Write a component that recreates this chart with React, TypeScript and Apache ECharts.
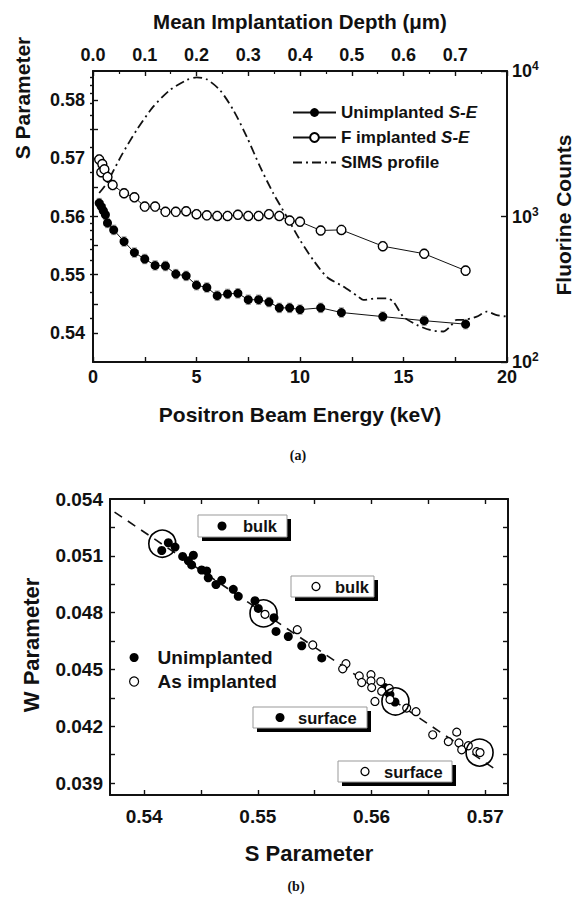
import React, { useEffect, useRef } from 'react';
import * as echarts from 'echarts';

const FF = '"Liberation Sans", Arial, Helvetica, sans-serif';
const INK = '#111';

// ---------- Panel (a): S parameter vs positron energy ----------
const energyUnimp = [0.3, 0.4, 0.5, 0.6, 0.7, 1.0, 1.5, 2, 2.5, 3, 3.5, 4, 4.5, 5, 5.5, 6, 6.5, 7, 7.5, 8, 8.5, 9, 9.5, 10, 11, 12, 14, 16, 18];
const sUnimp = [0.5623, 0.5617, 0.561, 0.5603, 0.5589, 0.5577, 0.5557, 0.5538, 0.5527, 0.5516, 0.5515, 0.5501, 0.5498, 0.5482, 0.5478, 0.5464, 0.5467, 0.5468, 0.5457, 0.5457, 0.5453, 0.5443, 0.5443, 0.544, 0.5443, 0.5435, 0.5428, 0.5421, 0.5415];
const energyImpl = [0.3, 0.4, 0.45, 0.55, 0.7, 0.95, 1.5, 2, 2.5, 3, 3.5, 4, 4.5, 5, 5.5, 6, 6.5, 7, 7.5, 8, 8.5, 9, 9.5, 10, 11, 12, 14, 16, 18];
const sImpl = [0.5698, 0.5676, 0.569, 0.5681, 0.5668, 0.5654, 0.564, 0.5633, 0.5617, 0.5617, 0.5608, 0.5608, 0.5609, 0.5604, 0.5602, 0.5601, 0.5601, 0.5603, 0.5601, 0.5601, 0.5604, 0.5601, 0.5593, 0.5591, 0.5576, 0.5577, 0.5549, 0.5536, 0.5507];
const sError = 0.0008;
const simsEnergy = [0.3, 0.66, 1.39, 2.11, 2.91, 3.72, 4.53, 5.01, 5.49, 6.13, 6.78, 7.43, 8.07, 8.71, 9.36, 10.0, 10.64, 11.29, 12.09, 12.82, 13.06, 13.7, 14.19, 14.51, 14.99, 15.64, 16.28, 16.92, 17.25, 17.57, 17.89, 18.54, 19.02, 19.5, 20];
const simsCounts = [1450, 1690, 2650, 3930, 5690, 7400, 8670, 9050, 8770, 7400, 5390, 3530, 2200, 1443, 997, 689, 502, 385, 330, 281, 267, 274, 274, 260, 205, 180, 166, 162, 175, 195, 195, 205, 222, 210, 205];

const sLabelsA = [0.54, 0.55, 0.56, 0.57, 0.58];
const sTicksA = [0.54, 0.545, 0.55, 0.555, 0.56, 0.565, 0.57, 0.575, 0.58];
const logMinorTicks = [2.30103, 2.47712, 2.60206, 2.69897, 2.77815, 2.84510, 2.90309, 2.95424, 3, 3.30103, 3.47712, 3.60206, 3.69897, 3.77815, 3.84510, 3.90309, 3.95424];

// ---------- Panel (b): W vs S ----------
const bUnimpS = [0.54155, 0.54213, 0.54272, 0.54339, 0.54389, 0.54418, 0.54433, 0.54506, 0.5455, 0.54564, 0.54632, 0.54682, 0.54784, 0.54828, 0.54975, 0.55004, 0.55142, 0.5516, 0.55268, 0.55386, 0.55562, 0.56118, 0.56162, 0.56206];
const bUnimpW = [0.05128, 0.05169, 0.05146, 0.05097, 0.05074, 0.05052, 0.05103, 0.05025, 0.0502, 0.04984, 0.04948, 0.04971, 0.04923, 0.04886, 0.04863, 0.04822, 0.04773, 0.04701, 0.04674, 0.04625, 0.04561, 0.04404, 0.04368, 0.04328];
const bImplS = [0.55063, 0.55347, 0.55483, 0.55775, 0.55746, 0.55892, 0.55913, 0.55995, 0.55995, 0.56001, 0.5603, 0.56081, 0.56089, 0.56156, 0.56162, 0.56309, 0.56391, 0.56538, 0.56675, 0.56749, 0.56769, 0.56793, 0.56851, 0.56925, 0.56954];
const bImplW = [0.04791, 0.0471, 0.04629, 0.0453, 0.04503, 0.04466, 0.04431, 0.04472, 0.04439, 0.04404, 0.04331, 0.04436, 0.04385, 0.044, 0.04341, 0.04296, 0.04277, 0.04155, 0.04119, 0.04169, 0.04112, 0.04076, 0.04097, 0.04066, 0.04061];
const ringS = [0.5416, 0.5505, 0.5621, 0.5695];
const ringW = [0.05164, 0.04796, 0.04331, 0.04061];
const fitS = [0.5374, 0.571];
const fitW = [0.05331, 0.03968];

const sLabelsB = [0.54, 0.55, 0.56, 0.57];
const sTicksB = [0.54, 0.545, 0.55, 0.555, 0.56, 0.565, 0.57];
const wLabels = [0.039, 0.042, 0.045, 0.048, 0.051, 0.054];
const wTicks = [0.039, 0.0405, 0.042, 0.0435, 0.045, 0.0465, 0.048, 0.0495, 0.051, 0.0525];

const zip = (a: number[], b: number[]) => a.map((v, i) => [v, b[i]]);

const axisLine = { show: true, onZero: false, lineStyle: { color: INK, width: 2 } };
const tickIn = (len = 5) => ({ show: true, inside: true, length: len, lineStyle: { color: INK, width: 1.4 } });
const lbl = (size: number, margin: number) => ({ fontSize: size, fontWeight: 'bold', fontFamily: FF, color: INK, margin });

function errBars(color: string) {
  return (params: any, api: any) => {
    const x = api.value(0);
    const y = api.value(1);
    const t = api.coord([x, y + sError]);
    const b = api.coord([x, y - sError]);
    const st = { stroke: color, lineWidth: 1.2 };
    return {
      type: 'group',
      children: [
        { type: 'line', shape: { x1: t[0], y1: t[1], x2: b[0], y2: b[1] }, style: st },
        { type: 'line', shape: { x1: t[0] - 2.5, y1: t[1], x2: t[0] + 2.5, y2: t[1] }, style: st },
        { type: 'line', shape: { x1: b[0] - 2.5, y1: b[1], x2: b[0] + 2.5, y2: b[1] }, style: st },
      ],
    };
  };
}

function txt(text: string, x: number, y: number, size: number, rot = 0, family = FF) {
  return {
    type: 'text',
    x,
    y,
    rotation: rot,
    style: {
      text,
      fontSize: size,
      fontWeight: 'bold',
      fontFamily: family,
      fill: INK,
      align: 'center',
      verticalAlign: 'middle',
      textAlign: 'center',
      textVerticalAlign: 'middle',
    },
  };
}

function box(x: number, y: number, w: number, h: number, filled: boolean, label: string, mx: number, tx: number) {
  const cy = y + h / 2;
  return {
    type: 'group',
    children: [
      { type: 'rect', shape: { x: x + 4, y: y + 4, width: w, height: h }, style: { fill: '#000' } },
      { type: 'rect', shape: { x, y, width: w, height: h }, style: { fill: '#fff', stroke: '#999', lineWidth: 1 } },
      filled
        ? { type: 'circle', shape: { cx: mx, cy, r: 4.5 }, style: { fill: '#000' } }
        : { type: 'circle', shape: { cx: mx, cy, r: 4 }, style: { fill: '#fff', stroke: '#000', lineWidth: 1.3 } },
      {
        type: 'text',
        x: tx,
        y: cy,
        style: { text: label, fontSize: 16.5, fontWeight: 'bold', fontFamily: FF, fill: INK, align: 'left', verticalAlign: 'middle', textAlign: 'left', textVerticalAlign: 'middle' },
      },
    ],
  };
}

export default function App() {
  const ref = useRef<HTMLDivElement>(null);
  useEffect(() => {
    if (!ref.current) return;
    const chart = echarts.init(ref.current, undefined, { renderer: 'svg' });
    const option: any = {
      animation: false,
      backgroundColor: '#fff',
      grid: [
        { left: 93, top: 71, width: 414, height: 291 },
        { left: 110, top: 499, width: 398, height: 296 },
      ],
      xAxis: [
        {
          gridIndex: 0, type: 'value', position: 'bottom', min: 0, max: 20, interval: 5,
          axisLine, axisTick: tickIn(5), minorTick: { show: true, splitNumber: 2, length: 5, lineStyle: { color: INK, width: 1.4 } },
          axisLabel: lbl(18, 6), splitLine: { show: false },
        },
        {
          gridIndex: 0, type: 'value', position: 'top', min: 0, max: 0.8, interval: 0.1,
          axisLine, axisTick: tickIn(5), minorTick: { show: true, splitNumber: 2, length: 3, lineStyle: { color: INK, width: 1.2 } },
          axisLabel: { ...lbl(18, 7), showMaxLabel: false, formatter: (v: number) => v.toFixed(1) }, splitLine: { show: false },
        },
        {
          gridIndex: 1, type: 'value', position: 'bottom', min: 0.537, max: 0.572,
          axisLine, axisTick: { ...tickIn(5), customValues: sTicksB },
          axisLabel: { ...lbl(19, 12), customValues: sLabelsB, formatter: (v: number) => v.toFixed(2) }, splitLine: { show: false },
        },
        {
          gridIndex: 1, type: 'value', position: 'top', min: 0.537, max: 0.572,
          axisLine, axisTick: { ...tickIn(5), customValues: sTicksB }, axisLabel: { show: false }, splitLine: { show: false },
        },
      ],
      yAxis: [
        {
          gridIndex: 0, type: 'value', position: 'left', min: 0.535, max: 0.585,
          axisLine, axisTick: { ...tickIn(5), customValues: sTicksA },
          axisLabel: { ...lbl(18, 8), customValues: sLabelsA, formatter: (v: number) => v.toFixed(2) }, splitLine: { show: false },
        },
        {
          gridIndex: 0, type: 'log', logBase: 10, position: 'right', min: 100, max: 10000,
          axisLine, axisTick: tickIn(6),
          axisLabel: {
            margin: 5,
            formatter: (v: number) => '{b|10}{s|' + Math.round(Math.log10(v)) + '}',
            rich: {
              b: { fontSize: 18, fontWeight: 'bold', fontFamily: FF, color: INK, lineHeight: 22 },
              s: { fontSize: 12, fontWeight: 'bold', fontFamily: FF, color: INK, verticalAlign: 'top', lineHeight: 12 },
            },
          },
          splitLine: { show: false },
        },
        {
          gridIndex: 0, type: 'value', position: 'right', min: 2, max: 4,
          axisLine: { show: false }, axisTick: { ...tickIn(3), customValues: logMinorTicks }, axisLabel: { show: false }, splitLine: { show: false },
        },
        {
          gridIndex: 1, type: 'value', position: 'left', min: 0.03837, max: 0.054,
          axisLine, axisTick: { ...tickIn(5), customValues: wTicks },
          axisLabel: { ...lbl(19, 7), customValues: wLabels, formatter: (v: number) => v.toFixed(3) }, splitLine: { show: false },
        },
        {
          gridIndex: 1, type: 'value', position: 'right', min: 0.03837, max: 0.054,
          axisLine, axisTick: { ...tickIn(5), customValues: wTicks }, axisLabel: { show: false }, splitLine: { show: false },
        },
      ],
      legend: [
        {
          data: ['Unimplanted S-E', 'F implanted S-E', { name: 'SIMS profile', itemStyle: { opacity: 0 } }],
          orient: 'vertical', left: 287, top: 99, itemWidth: 43, itemHeight: 11, itemGap: 8,
          selectedMode: false,
          formatter: (n: string) => n.replace('S-E', '{i|S-E}'),
          textStyle: {
            fontSize: 17, fontWeight: 'bold', fontFamily: FF, color: INK,
            rich: { i: { fontSize: 17, fontWeight: 'bold', fontStyle: 'italic', fontFamily: FF, color: INK } },
          },
        },
        {
          data: [
            { name: 'Unimplanted', itemStyle: { color: '#000' } },
            { name: 'As implanted', itemStyle: { color: '#fff', borderColor: '#000', borderWidth: 1.2 } },
          ],
          orient: 'vertical', left: 124, top: 643, itemWidth: 9, itemHeight: 9, itemGap: 5,
          selectedMode: false,
          textStyle: { fontSize: 19, fontWeight: 'bold', fontFamily: FF, color: INK, padding: [0, 0, 0, 14] },
        },
      ],
      series: [
        {
          name: 'errUnimp', type: 'custom', xAxisIndex: 0, yAxisIndex: 0, renderItem: errBars('#a0a0a0'),
          data: zip(energyUnimp, sUnimp), z: 1, silent: true,
        },
        {
          name: 'errImpl', type: 'custom', xAxisIndex: 0, yAxisIndex: 0, renderItem: errBars('#a0a0a0'),
          data: zip(energyImpl, sImpl), z: 1, silent: true,
        },
        {
          name: 'SIMS profile', type: 'line', xAxisIndex: 0, yAxisIndex: 1, data: zip(simsEnergy, simsCounts),
          symbol: 'none', smooth: 0.25, lineStyle: { color: INK, width: 1.8, type: [9, 4, 2, 4] }, itemStyle: { color: INK }, z: 2,
        },
        {
          name: 'Unimplanted S-E', type: 'line', xAxisIndex: 0, yAxisIndex: 0, data: zip(energyUnimp, sUnimp),
          symbol: 'circle', symbolSize: 9, itemStyle: { color: '#000' }, lineStyle: { color: INK, width: 1 }, z: 3,
        },
        {
          name: 'F implanted S-E', type: 'line', xAxisIndex: 0, yAxisIndex: 0, data: zip(energyImpl, sImpl),
          symbol: 'circle', symbolSize: 9, itemStyle: { color: '#fff', borderColor: '#000', borderWidth: 1.4 },
          lineStyle: { color: INK, width: 1 }, z: 3,
        },
        {
          name: 'fit', type: 'line', xAxisIndex: 2, yAxisIndex: 3, data: zip(fitS, fitW), symbol: 'none',
          lineStyle: { color: INK, width: 1.6, type: [9, 7] }, z: 2,
        },
        {
          name: 'Unimplanted', type: 'scatter', xAxisIndex: 2, yAxisIndex: 3, data: zip(bUnimpS, bUnimpW),
          symbol: 'circle', symbolSize: 9, itemStyle: { color: '#000', opacity: 1 }, z: 3,
        },
        {
          name: 'As implanted', type: 'scatter', xAxisIndex: 2, yAxisIndex: 3, data: zip(bImplS, bImplW),
          symbol: 'circle', symbolSize: 8, itemStyle: { color: '#fff', borderColor: '#000', borderWidth: 1.2, opacity: 1 }, z: 4,
        },
        {
          name: 'rings', type: 'scatter', xAxisIndex: 2, yAxisIndex: 3, data: zip(ringS, ringW),
          symbol: 'circle', symbolSize: 27, itemStyle: { color: 'rgba(0,0,0,0)', borderColor: '#000', borderWidth: 1.6, opacity: 1 }, z: 5, silent: true,
        },
      ],
      graphic: [
        txt('Mean Implantation Depth (\u03bcm)', 300, 21, 20.5),
        txt('Positron Beam Energy (keV)', 300, 414, 21),
        txt('S Parameter', 22, 98, 21, Math.PI / 2),
        txt('Fluorine Counts', 563, 215, 21, Math.PI / 2),
        txt('(a)', 298, 455, 14, 0, '"Liberation Serif", "Times New Roman", serif'),
        txt('W Parameter', 31, 645, 22, Math.PI / 2),
        txt('S Parameter', 309, 853, 22),
        txt('(b)', 296, 886, 14, 0, '"Liberation Serif", "Times New Roman", serif'),
        box(198, 515, 89, 22, true, 'bulk', 222, 243),
        box(291, 576, 83, 21, false, 'bulk', 316, 335),
        box(253, 707, 114, 21, true, 'surface', 280, 298),
        box(338, 761, 114, 21, false, 'surface', 365, 384),
      ],
    };
    chart.setOption(option);
    return () => chart.dispose();
  }, []);
  return <div ref={ref} style={{ position: 'fixed', left: 0, top: 0, width: 576, height: 898, background: '#fff' }} />;
}
